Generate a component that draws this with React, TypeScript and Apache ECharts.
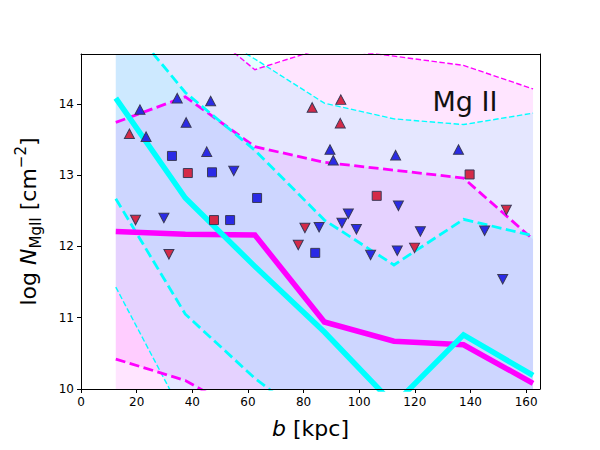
import React, { useEffect, useRef } from 'react';
import * as echarts from 'echarts';

// bin centres (kpc)
const bins = [12.5, 37.5, 62.5, 87.5, 112.5, 137.5, 162.5];

// cyan model percentiles
const cyanMed = [14.08, 12.68, 11.72, 10.8, 9.78, 10.76, 10.19];
const cyanP16 = [12.67, 11.05, 10.15, 9.4, 9.0, 9.1, 8.9];
const cyanP84 = [15.34, 14.16, 13.35, 12.37, 11.74, 12.38, 12.15];
const cyanP2 = [11.43, 9.58, 8.9, 8.5, 8.2, 8.3, 8.0];
const cyanP97 = [16.0, 15.2, 14.63, 14.01, 13.79, 13.71, 13.87];

// magenta model percentiles
const magMed = [12.21, 12.17, 12.16, 10.94, 10.67, 10.62, 10.08];
const magP16 = [10.42, 10.12, 9.57, 9.3, 9.2, 9.1, 8.8];
const magP84 = [13.74, 14.1, 13.4, 13.18, 13.07, 12.96, 12.1];
const magP2 = [9.5, 9.0, 8.7, 8.5, 8.4, 8.3, 8.1];
const magP97 = [15.6, 15.28, 14.48, 14.79, 14.67, 14.54, 14.21];

// observations [b, logN]
const redUp = [[17.4, 13.58], [83.1, 13.95], [93.4, 14.06], [93.2, 13.73]];
const blueUp = [[21.2, 13.92], [23.4, 13.54], [34.6, 14.08], [37.8, 13.74], [46.6, 14.04], [45.2, 13.33], [89.5, 13.36], [90.7, 13.21], [113.1, 13.28], [135.7, 13.36]];
const redSq = [[38.4, 13.03], [47.8, 12.37], [106.3, 12.71], [139.7, 13.01]];
const blueSq = [[32.7, 13.27], [47.1, 13.04], [53.6, 12.37], [63.3, 12.68], [84.2, 11.91]];
const redDown = [[19.6, 12.37], [31.6, 11.89], [78.1, 12.02], [80.5, 12.26], [119.9, 11.98], [152.9, 12.51]];
const blueDown = [[29.8, 12.4], [54.9, 13.06], [85.6, 12.27], [93.8, 12.33], [96.1, 12.46], [99.0, 12.24], [104.1, 11.88], [113.7, 11.94], [114.1, 12.57], [122.0, 12.21], [145.1, 12.22], [151.6, 11.54]];

const xTicks = [0, 20, 40, 60, 80, 100, 120, 140, 160];
const yTicks = [10, 11, 12, 13, 14];

const FONT = 'DejaVu Sans';
const RED = '#d42a48';
const BLUE = '#2a2ae6';
const EDGE = '#3a3a58';

function band(lo: number[], hi: number[], color: string) {
  return {
    type: 'custom',
    clip: true,
    silent: true,
    z: 1,
    data: bins.map((b, i) => [b, lo[i], hi[i]]),
    encode: { x: 0, y: [1, 2] },
    renderItem: (params: any, api: any) => {
      if (params.dataIndex !== 0) return null;
      const top = bins.map((b, i) => api.coord([b, hi[i]]));
      const bot = bins.map((b, i) => api.coord([b, lo[i]])).reverse();
      return {
        type: 'polygon',
        shape: { points: [...top, ...bot] },
        style: { fill: color, stroke: null },
      };
    },
  };
}

function line(vals: number[], color: string, width: number, type: any) {
  return {
    type: 'line',
    clip: true,
    silent: true,
    z: 3,
    symbol: 'none',
    showSymbol: false,
    data: bins.map((b, i) => [b, vals[i]]),
    lineStyle: { color, width, type, cap: 'butt', join: 'miter' },
  };
}

function scatter(pts: number[][], color: string, symbol: string, size: any, rotate: number) {
  return {
    type: 'scatter',
    z: 5,
    silent: true,
    symbol,
    symbolSize: size,
    symbolRotate: rotate,
    data: pts,
    itemStyle: { color, borderColor: EDGE, borderWidth: 1, opacity: 1 },
  };
}

const THICK_DASH = [10, 4.5];
const THIN_DASH = [5.5, 2.5];

export default function App() {
  const ref = useRef<HTMLDivElement>(null);
  useEffect(() => {
    const chart = echarts.init(ref.current!, null, { renderer: 'svg' });
    const axisText = { fontFamily: FONT, fontSize: 12, color: '#000' };
    chart.setOption({
      animation: false,
      backgroundColor: '#fff',
      grid: { left: 81, right: 60, top: 54, bottom: 61, outerBoundsMode: 'none', containLabel: false },
      xAxis: [
        {
          type: 'value', min: 0, max: 165, interval: 20, z: 10,
          axisLine: { show: true, onZero: false, lineStyle: { color: '#000', width: 1 } },
          axisTick: { show: true, length: 4, lineStyle: { color: '#000' }, customValues: xTicks },
          axisLabel: { ...axisText, margin: 7, customValues: xTicks },
          splitLine: { show: false },
          name: '{i|b} [kpc]',
          nameLocation: 'middle',
          nameGap: 28,
          nameTextStyle: {
            fontFamily: FONT, fontSize: 22, color: '#000',
            rich: { i: { fontFamily: FONT, fontSize: 22, fontStyle: 'italic', color: '#000' } },
          },
        },
        {
          type: 'value', position: 'top', min: 0, max: 165, z: 10,
          axisLine: { show: true, onZero: false, lineStyle: { color: '#000', width: 1 } },
          axisTick: { show: false }, axisLabel: { show: false }, splitLine: { show: false },
        },
      ],
      yAxis: [
        {
          type: 'value', min: 10, max: 14.7, interval: 1, z: 10,
          axisLine: { show: true, onZero: false, lineStyle: { color: '#000', width: 1 } },
          axisTick: { show: true, length: 4, lineStyle: { color: '#000' }, customValues: yTicks },
          axisLabel: { ...axisText, margin: 7, customValues: yTicks },
          splitLine: { show: false },
          name: '{a|log }{i|N}{s|MgII}{a| [cm}{p|−2}{a|]}',
          nameLocation: 'middle',
          nameRotate: 90,
          nameGap: 38,
          nameTextStyle: {
            fontFamily: FONT, fontSize: 22, color: '#000',
            rich: {
              a: { fontFamily: FONT, fontSize: 22, color: '#000', lineHeight: 30, verticalAlign: 'middle' },
              i: { fontFamily: FONT, fontSize: 22, fontStyle: 'italic', color: '#000', lineHeight: 30, verticalAlign: 'middle' },
              s: { fontFamily: FONT, fontSize: 15, color: '#000', verticalAlign: 'bottom', lineHeight: 18 },
              p: { fontFamily: FONT, fontSize: 15, color: '#000', verticalAlign: 'top', lineHeight: 18 },
            },
          },
        },
        {
          type: 'value', position: 'right', min: 10, max: 14.7, z: 10,
          axisLine: { show: true, onZero: false, lineStyle: { color: '#000', width: 1 } },
          axisTick: { show: false }, axisLabel: { show: false }, splitLine: { show: false },
        },
      ],
      graphic: [
        {
          type: 'text', x: 465, y: 101.5, z: 20,
          style: { text: 'Mg II', fontFamily: FONT, fontSize: 27, fill: '#111', textAlign: 'center', textVerticalAlign: 'middle' },
        },
      ],
      series: [
        band(magP2, magP97, 'rgba(255,0,255,0.1)'),
        band(magP16, magP84, 'rgba(255,0,255,0.1)'),
        band(cyanP2, cyanP97, 'rgba(0,255,255,0.1)'),
        band(cyanP16, cyanP84, 'rgba(0,255,255,0.1)'),
        line(magP2, '#ff00ff', 1.4, THIN_DASH),
        line(magP97, '#ff00ff', 1.4, THIN_DASH),
        line(cyanP2, '#00ffff', 1.4, THIN_DASH),
        line(cyanP97, '#00ffff', 1.4, THIN_DASH),
        line(magP16, '#ff00ff', 2.8, THICK_DASH),
        line(magP84, '#ff00ff', 2.8, THICK_DASH),
        line(cyanP16, '#00ffff', 2.8, THICK_DASH),
        line(cyanP84, '#00ffff', 2.8, THICK_DASH),
        line(magMed, '#ff00ff', 5.5, 'solid'),
        line(cyanMed, '#00ffff', 5.5, 'solid'),
        scatter(redUp, RED, 'triangle', [10, 9.5], 0),
        scatter(blueUp, BLUE, 'triangle', [10, 9.5], 0),
        scatter(redSq, RED, 'rect', 9, 0),
        scatter(blueSq, BLUE, 'rect', 9, 0),
        scatter(redDown, RED, 'triangle', [10, 9.5], 180),
        scatter(blueDown, BLUE, 'triangle', [10, 9.5], 180),
      ],
    });
    return () => chart.dispose();
  }, []);
  return <div ref={ref} style={{ position: 'fixed', left: 0, top: 0, width: 600, height: 450 }} />;
}
